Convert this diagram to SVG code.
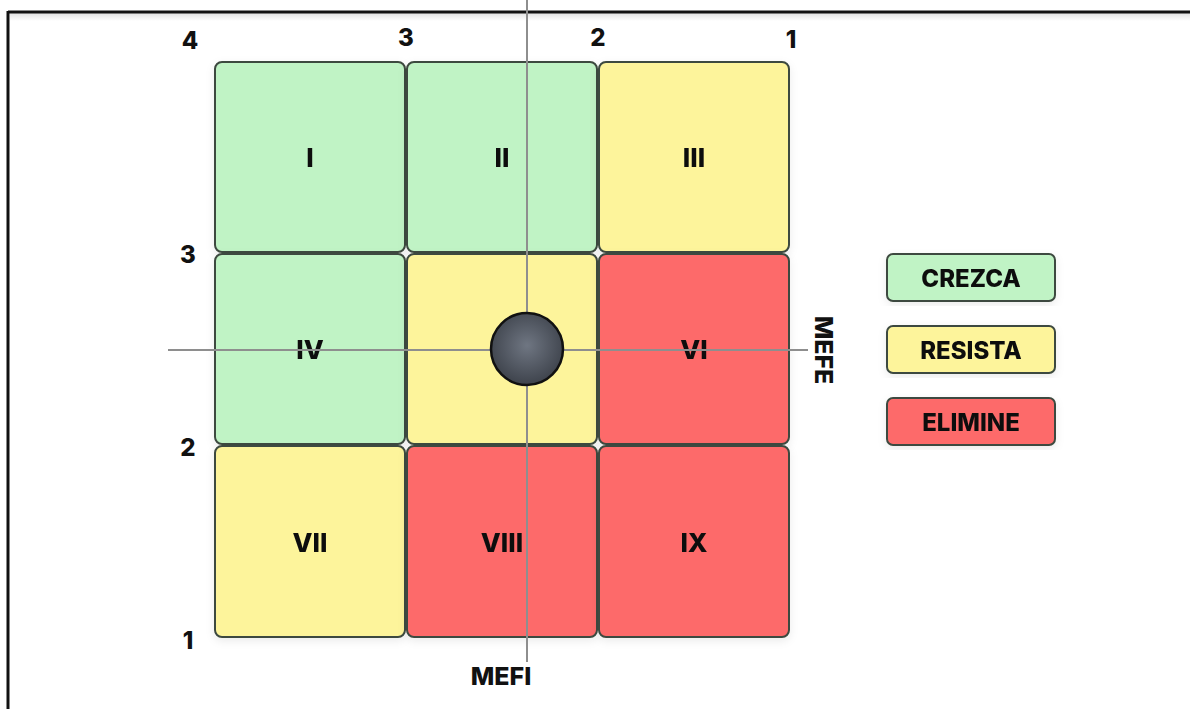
<svg xmlns="http://www.w3.org/2000/svg" width="1190" height="709" viewBox="0 0 1190 709">
  <style>
    .cell { stroke: #3d4a3f; stroke-width: 2; }
    .green { fill: #c0f3c5; }
    .yellow { fill: #fdf49b; }
    .red { fill: #fd6b6a; }
    .lbl { font-family: Inter, "Liberation Sans", sans-serif; font-weight: 800; fill: #111; text-anchor: middle; dominant-baseline: central; }
    .cellText { font-size: 26px; }
    .num { font-size: 24px; }
    .axisName { font-size: 25px; }
    .legText { font-size: 24px; }
    .axis { stroke: #8e8e8e; stroke-width: 2; fill: none; }
  </style>
  <defs>
    <radialGradient id="ball" cx="0.5" cy="0.45" r="0.55">
      <stop offset="0" stop-color="#6f7682"/>
      <stop offset="1" stop-color="#3e434c"/>
    </radialGradient>
    <filter id="soft" x="-10%" y="-10%" width="120%" height="120%">
      <feDropShadow dx="0" dy="3" stdDeviation="4" flood-color="#000" flood-opacity="0.08"/>
    </filter>
    <linearGradient id="frameShade" x1="0" y1="0" x2="0" y2="1">
      <stop offset="0" stop-color="#000" stop-opacity="0.12"/>
      <stop offset="1" stop-color="#000" stop-opacity="0"/>
    </linearGradient>
  </defs>

  <rect width="1190" height="709" fill="#fff"/>

  <!-- outer frame -->
  <g id="frame">
    <rect x="10" y="13" width="1180" height="8" fill="url(#frameShade)"/>
    <line x1="8" y1="12" x2="1190" y2="12" stroke="#111" stroke-width="3"/>
    <line x1="8" y1="11" x2="8" y2="709" stroke="#111" stroke-width="3"/>
  </g>

  <!-- matrix cells -->
  <g id="cell-I" filter="url(#soft)"><rect class="cell green" x="215" y="62" width="190" height="190" rx="7"/><text class="lbl cellText" x="310" y="157">I</text></g>
  <g id="cell-II" filter="url(#soft)"><rect class="cell green" x="407" y="62" width="190" height="190" rx="7"/><text class="lbl cellText" x="502" y="157">II</text></g>
  <g id="cell-III" filter="url(#soft)"><rect class="cell yellow" x="599" y="62" width="190" height="190" rx="7"/><text class="lbl cellText" x="694" y="157">III</text></g>
  <g id="cell-IV" filter="url(#soft)"><rect class="cell green" x="215" y="254" width="190" height="190" rx="7"/><text class="lbl cellText" x="310" y="349">IV</text></g>
  <g id="cell-V" filter="url(#soft)"><rect class="cell yellow" x="407" y="254" width="190" height="190" rx="7"/></g>
  <g id="cell-VI" filter="url(#soft)"><rect class="cell red" x="599" y="254" width="190" height="190" rx="7"/><text class="lbl cellText" x="694" y="349">VI</text></g>
  <g id="cell-VII" filter="url(#soft)"><rect class="cell yellow" x="215" y="446" width="190" height="191" rx="7"/><text class="lbl cellText" x="310" y="542">VII</text></g>
  <g id="cell-VIII" filter="url(#soft)"><rect class="cell red" x="407" y="446" width="190" height="191" rx="7"/><text class="lbl cellText" x="502" y="542">VIII</text></g>
  <g id="cell-IX" filter="url(#soft)"><rect class="cell red" x="599" y="446" width="190" height="191" rx="7"/><text class="lbl cellText" x="694" y="542">IX</text></g>

  <!-- scale numbers -->
  <g id="scale">
    <text class="lbl num" x="190" y="40">4</text>
    <text class="lbl num" x="406" y="37">3</text>
    <text class="lbl num" x="598" y="37">2</text>
    <text class="lbl num" x="791" y="39">1</text>
    <text class="lbl num" x="188" y="254">3</text>
    <text class="lbl num" x="188" y="447">2</text>
    <text class="lbl num" x="188" y="640">1</text>
  </g>

  <!-- axis lines -->
  <g id="connectors">
    <line class="axis" x1="527" y1="0" x2="527" y2="662"/>
    <line class="axis" x1="168" y1="350" x2="808" y2="350"/>
  </g>

  <!-- position marker -->
  <g id="marker">
    <circle cx="527" cy="349" r="36" fill="url(#ball)" stroke="#111" stroke-width="2.5"/>
  </g>

  <!-- axis names -->
  <g id="axis-mefi"><text class="lbl axisName" x="501" y="676">MEFI</text></g>
  <g id="axis-mefe"><text class="lbl axisName" transform="translate(824 350) rotate(90)" x="0" y="0">MEFE</text></g>

  <!-- legend -->
  <g id="legend-crezca" filter="url(#soft)"><rect class="cell green" x="887" y="254" width="168" height="47" rx="6"/><text class="lbl legText" x="971" y="278">CREZCA</text></g>
  <g id="legend-resista" filter="url(#soft)"><rect class="cell yellow" x="887" y="326" width="168" height="47" rx="6"/><text class="lbl legText" x="971" y="350">RESISTA</text></g>
  <g id="legend-elimine" filter="url(#soft)"><rect class="cell red" x="887" y="398" width="168" height="47" rx="6"/><text class="lbl legText" x="971" y="422">ELIMINE</text></g>
</svg>
